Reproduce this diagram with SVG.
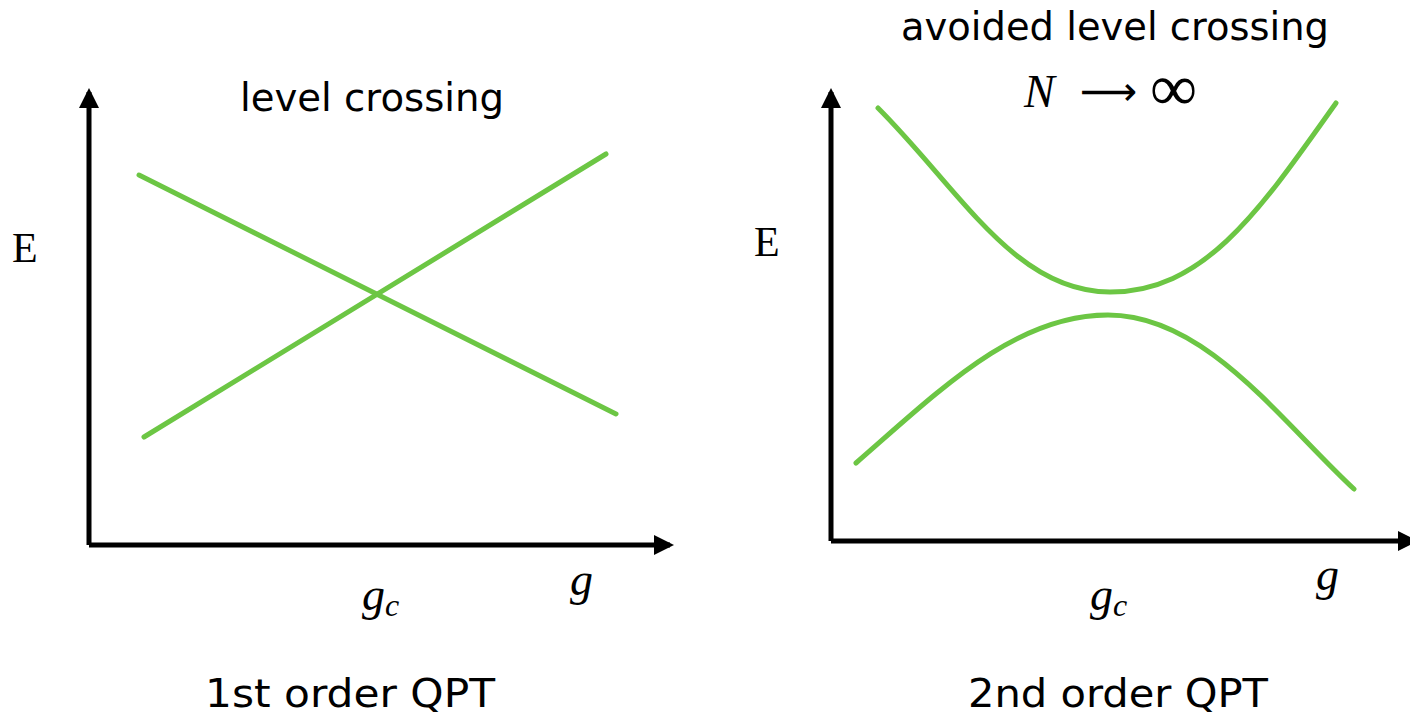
<svg xmlns="http://www.w3.org/2000/svg" width="1410" height="721" viewBox="0 0 1410 721">
<style>
.ax{stroke:#000;stroke-width:5;fill:none}
.cv{stroke:#6cc644;stroke-width:5;fill:none;stroke-linecap:round}
.lbl{font-family:"DejaVu Sans",sans-serif;font-size:39px;fill:#000}
.math{font-family:"Liberation Serif","DejaVu Serif",serif;fill:#000}
</style>
<defs>
<marker id="ah" viewBox="0 0 10 10" refX="8" refY="5" markerWidth="4" markerHeight="4" orient="auto" markerUnits="strokeWidth">
<path d="M0,0 L10,5 L0,10 z" fill="#000"/>
</marker>
</defs>
<rect width="1410" height="721" fill="#fff"/>
<g id="connectors">
<line class="ax" x1="89" y1="545" x2="89" y2="92" marker-end="url(#ah)"/>
<line class="ax" x1="89" y1="545" x2="670" y2="545" marker-end="url(#ah)"/>
<line class="ax" x1="831" y1="541" x2="831" y2="92" marker-end="url(#ah)"/>
<line class="ax" x1="831" y1="541" x2="1414" y2="541" marker-end="url(#ah)"/>
<line class="cv" x1="139" y1="175" x2="616" y2="414"/>
<line class="cv" x1="144" y1="437" x2="606" y2="154"/>
<path class="cv" d="M878,108 C960,190 1015,292 1110,292 C1205,292 1260,210 1336,103"/>
<path class="cv" d="M856,463 C940,390 1015,315 1108,315 C1205,315 1280,420 1354,489"/>
</g>
<g id="labels">
<text class="lbl" x="372" y="111" text-anchor="middle" textLength="264" lengthAdjust="spacingAndGlyphs">level crossing</text>
<text class="lbl" x="1115" y="40" text-anchor="middle" textLength="428" lengthAdjust="spacingAndGlyphs">avoided level crossing</text>
<text class="math" x="1024" y="107" font-size="46" font-style="italic">N</text>
<text x="1080" y="105" font-family="DejaVu Sans,sans-serif" font-size="40">⟶</text>
<text class="math" x="1150" y="110" font-size="66">∞</text>
<text class="math" x="12" y="262" font-size="42">E</text>
<text class="math" x="754" y="256" font-size="42">E</text>
<text class="math" x="362" y="610" font-size="46" font-style="italic">g<tspan font-size="32" dy="6">c</tspan></text>
<text class="math" x="1090" y="610" font-size="46" font-style="italic">g<tspan font-size="32" dy="6">c</tspan></text>
<text class="math" x="570" y="595" font-size="46" font-style="italic">g</text>
<text class="math" x="1316" y="590" font-size="46" font-style="italic">g</text>
<text class="lbl" x="350" y="707" text-anchor="middle" textLength="290" lengthAdjust="spacingAndGlyphs">1st order QPT</text>
<text class="lbl" x="1118" y="707" text-anchor="middle" textLength="300" lengthAdjust="spacingAndGlyphs">2nd order QPT</text>
</g>
</svg>
